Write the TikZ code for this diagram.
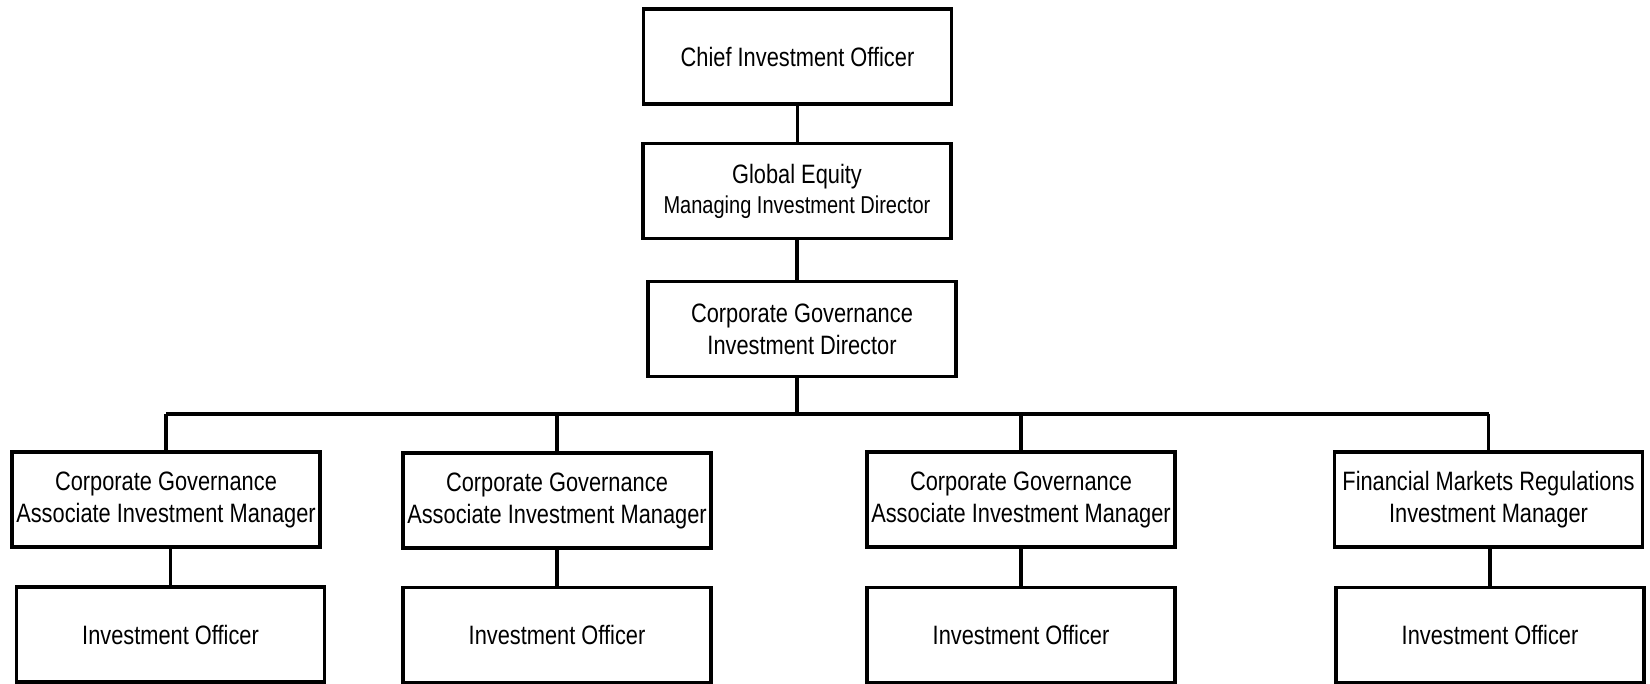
\documentclass[tikz,border=0pt]{standalone}
\usepackage{fontspec}
\setmainfont{Liberation Sans}[FakeStretch=0.82]
\usetikzlibrary{positioning}

\tikzset{every picture/.style={line width=1.75pt}}
\tikzset{posbox/.style={draw, rectangle, minimum width=154pt, minimum height=47.5pt, inner sep=0pt, align=center, font=\fontsize{13.3}{16}\selectfont}}

\begin{document}
\begin{tikzpicture}[x=0.5pt,y=0.5pt,yscale=-1,xscale=1]
\useasboundingbox (0,0) rectangle (1650,684);

%Shape: Rectangle [top levels]
\node [posbox] (cio) at (797.5,56.5) {Chief Investment Officer};
\node [posbox] (ged) at (797,191) {Global Equity\\[-1pt]{\fontsize{12.2}{15}\selectfont Managing Investment Director}};
\node [posbox] (cgd) at (802,329) {Corporate Governance\\Investment Director};

%Shape: Rectangle [managers]
\node [posbox] (am1) at (166,499.5) {Corporate Governance\\Associate Investment Manager};
\node [posbox] (am2) at (557,500.5) {Corporate Governance\\Associate Investment Manager};
\node [posbox] (am3) at (1021,499.5) {Corporate Governance\\Associate Investment Manager};
\node [posbox] (fmr) at (1488.5,499.5) {Financial Markets Regulations\\Investment Manager};

%Shape: Rectangle [officers]
\node [posbox] (io1) at (170.5,634.5) {Investment Officer};
\node [posbox] (io2) at (557,635) {Investment Officer};
\node [posbox] (io3) at (1021,635) {Investment Officer};
\node [posbox] (io4) at (1490,635) {Investment Officer};

% Straight Lines
\coordinate (bus) at (797,414);
\draw (cio.south) -- (cio.south |- ged.north);
\draw (ged.south) -- (ged.south |- cgd.north);
\draw (ged.south |- cgd.south) -- (bus);
\draw (am1.north |- bus) -- (fmr.north |- bus);
\draw (am1.north) -- (am1.north |- bus);
\draw (am2.north) -- (am2.north |- bus);
\draw (am3.north) -- (am3.north |- bus);
\draw (fmr.north) -- (fmr.north |- bus);
\draw (io1.north) -- (io1.north |- am1.south);
\draw (io2.north) -- (io2.north |- am2.south);
\draw (io3.north) -- (io3.north |- am3.south);
\draw (io4.north) -- (io4.north |- fmr.south);

\end{tikzpicture}
\end{document}
